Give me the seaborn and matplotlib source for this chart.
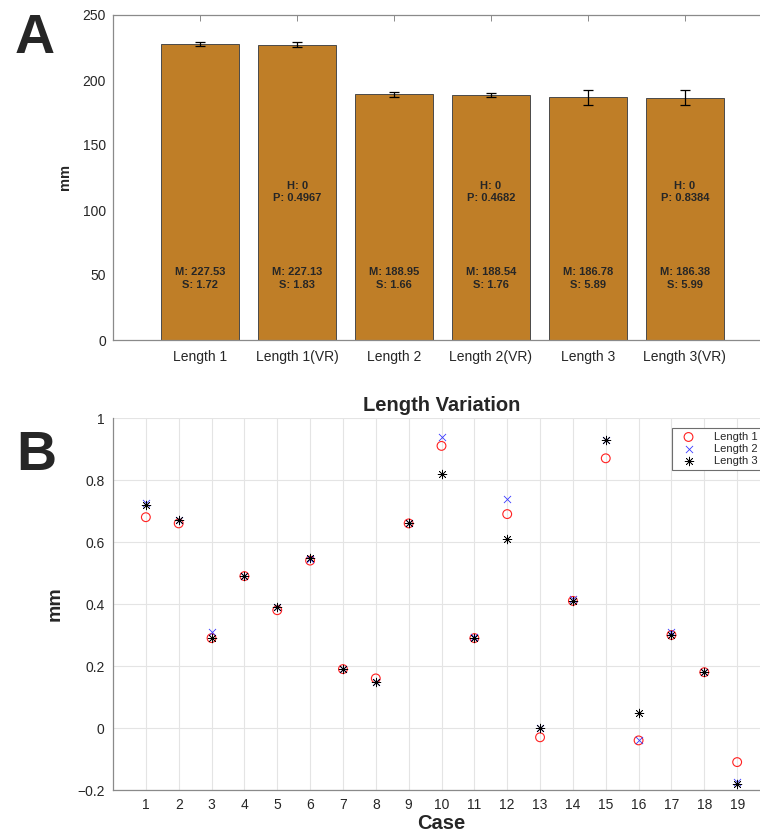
import numpy as np
import pandas as pd
import seaborn as sns
from matplotlib import pyplot as plt

# Panel A data
bar_labels = ['Length 1', 'Length 1(VR)', 'Length 2', 'Length 2(VR)', 'Length 3', 'Length 3(VR)']
bar_means = [227.53, 227.13, 188.95, 188.54, 186.78, 186.38]
bar_stds = [1.72, 1.83, 1.66, 1.76, 5.89, 5.99]
test_h = [0, 0, 0]
test_p = [0.4967, 0.4682, 0.8384]

# Panel B data
cases = list(range(1, 20))
length1 = [0.68, 0.66, 0.29, 0.49, 0.38, 0.54, 0.19, 0.16, 0.66, 0.91,
           0.29, 0.69, -0.03, 0.41, 0.87, -0.04, 0.30, 0.18, -0.11]
length2 = [0.725, 0.67, 0.31, 0.49, 0.39, 0.545, 0.19, 0.15, 0.66, 0.94,
           0.295, 0.74, 0.0, 0.415, 0.93, -0.04, 0.31, 0.18, -0.175]
length3 = [0.72, 0.67, 0.29, 0.49, 0.39, 0.55, 0.19, 0.15, 0.66, 0.82,
           0.29, 0.61, 0.0, 0.41, 0.93, 0.05, 0.30, 0.18, -0.18]

sns.set_style("white")
plt.rcParams['font.family'] = ['Liberation Sans', 'DejaVu Sans']

W, H = 760, 834
fig = plt.figure(figsize=(7.6, 8.34), dpi=100)

axis_col = '#8a8a8a'
tick_col = '#262626'

# ---------- Panel A ----------
axA = fig.add_axes([113 / W, 1 - 340 / H, (772 - 113) / W, (340 - 15) / H])
bar_df = pd.DataFrame({'label': bar_labels, 'mean': bar_means})
sns.barplot(data=bar_df, x='label', y='mean', ax=axA, color='#BF7E27',
            saturation=1, edgecolor='#4a4a4a', linewidth=0.7, width=0.8, errorbar=None)
axA.errorbar(np.arange(len(bar_means)), bar_means, yerr=bar_stds, fmt='none',
             ecolor='black', elinewidth=0.9, capsize=3.8, capthick=0.9)

for i, (m, s) in enumerate(zip(bar_means, bar_stds)):
    axA.text(i, 47.3, f'M: {m:.2f}\nS: {s:.2f}', ha='center', va='center',
             fontsize=8, fontweight='bold', linespacing=1.3)
for j, (h, p) in enumerate(zip(test_h, test_p)):
    axA.text(2 * j + 1, 113.8, f'H: {h}\nP: {p:.4f}', ha='center', va='center',
             fontsize=8, fontweight='bold', linespacing=1.3)

axA.set_xlim(-0.9, 5.9)
axA.set_ylim(0, 250)
axA.set_yticks(range(0, 251, 50))
axA.set_xlabel('')
axA.set_ylabel('mm', fontsize=10.5, fontweight='bold', labelpad=8)
axA.tick_params(axis='both', direction='in', length=4, width=0.7, color=axis_col,
                labelsize=10, labelcolor=tick_col, top=True)
axA.tick_params(axis='x', pad=7)
axA.tick_params(axis='y', pad=5)
for side in ['left', 'bottom', 'top']:
    axA.spines[side].set_color(axis_col)
    axA.spines[side].set_linewidth(0.9)
axA.spines['right'].set_visible(False)

# ---------- Panel B ----------
axB = fig.add_axes([113 / W, 1 - 790 / H, (770 - 113) / W, (790 - 418) / H])
sns.scatterplot(x=cases, y=length1, ax=axB, marker='o', s=40, fc='none',
                ec='#ff2020', linewidth=0.8, label='Length 1')
sns.scatterplot(x=cases, y=length2, ax=axB, marker='x', s=26, color='#3a3aff',
                linewidth=0.6, label='Length 2')
sns.scatterplot(x=cases, y=length3, ax=axB, marker=(8, 2, 0), s=40, color='black',
                linewidth=0.5, label='Length 3')

axB.set_xlim(0, 20)
axB.set_ylim(-0.2, 1)
axB.set_xticks(cases)
axB.set_yticks(np.round(np.arange(-0.2, 1.01, 0.2), 1))
axB.set_yticklabels(['\u22120.2', '0', '0.2', '0.4', '0.6', '0.8', '1'])
axB.grid(True, color='#e4e4e4', linewidth=0.8)
axB.set_axisbelow(True)
axB.set_title('Length Variation', fontsize=14.5, fontweight='bold', pad=5)
axB.set_xlabel('Case', fontsize=14.5, fontweight='bold', labelpad=1)
axB.set_ylabel('mm', fontsize=14, fontweight='bold', labelpad=10)
axB.tick_params(axis='both', direction='in', length=4, width=0.7, color=axis_col,
                labelsize=10, labelcolor=tick_col)
axB.tick_params(axis='x', pad=6)
axB.tick_params(axis='y', pad=6)
for side in ['left', 'bottom']:
    axB.spines[side].set_color(axis_col)
    axB.spines[side].set_linewidth(0.9)
axB.spines['top'].set_visible(False)
axB.spines['right'].set_visible(False)

leg = axB.legend(loc='upper left', bbox_to_anchor=(0.843, 0.988), fontsize=8,
                 frameon=True, fancybox=False, edgecolor='#6e6e6e', framealpha=1,
                 handletextpad=1.2, borderpad=0.35, labelspacing=0.2, handlelength=2.2)
leg.get_frame().set_linewidth(0.8)

# Panel letters
fig.text(15 / W, 1 - 53 / H, 'A', fontsize=40, fontweight='bold', ha='left', va='baseline')
fig.text(16 / W, 1 - 470 / H, 'B', fontsize=40, fontweight='bold', ha='left', va='baseline')

fig.savefig('out.png', dpi=100)
